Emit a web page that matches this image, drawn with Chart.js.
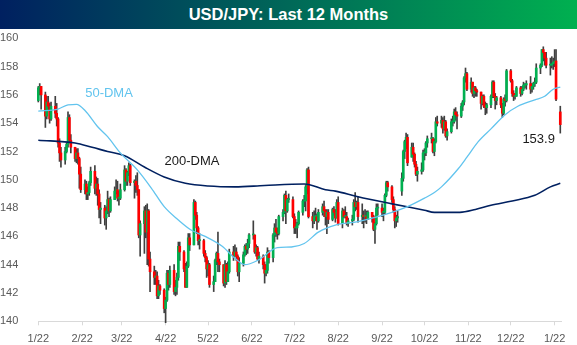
<!DOCTYPE html>
<html>
<head>
<meta charset="utf-8">
<title>USD/JPY: Last 12 Months</title>
<script src="https://cdn.jsdelivr.net/npm/chart.js@4.4.1/dist/chart.umd.min.js"></script>
<style>
  html, body { margin: 0; padding: 0; background: #fff; }
  #wrap { position: relative; width: 577px; height: 345px; }
  #title {
    position: absolute; left: 0; top: 0; width: 577px; height: 29px;
    background: linear-gradient(to right, #002060, #00B050);
    color: #fff; font: bold 16.5px "Liberation Sans", Arial, sans-serif;
    text-align: center; line-height: 29px;
  }
  canvas { position: absolute; left: 0; top: 0; }
</style>
</head>
<body>
<div id="wrap">
  <canvas id="fxChart" width="577" height="345"></canvas>
  <div id="title">USD/JPY: Last 12 Months</div>
</div>
<script>
// === USD/JPY daily candles, 1/22/2025 - 1/26/2026 (weekdays) ===
const firstDay = Date.UTC(2025, 0, 22);

const opens = [
  155.6, 156.5, 156.6,
  156.0, 154.5, 155.5, 155.2, 154.3,  155.2, 154.7, 154.3, 152.6, 151.9,
  151.4, 152.0, 152.5, 154.4, 152.8,  152.3, 151.5, 151.9, 151.5, 150.4,
  149.3, 149.7, 149.0, 149.1, 149.8,  150.6, 149.4, 149.7, 149.0, 147.9,
  148.0, 147.3, 147.8, 148.6, 147.8,  148.6, 149.2, 149.3, 148.7, 148.7,
  149.3, 150.7, 149.9, 150.5, 151.0,  149.8, 149.9, 149.6, 149.3, 146.1,
  146.9, 147.8, 146.3, 147.8, 144.4,  143.5, 143.1, 143.2, 141.8, 142.5,
  142.2, 140.9, 141.5, 143.4, 142.6,  143.6, 142.1, 142.4, 143.1, 145.3,
  144.9, 143.7, 142.4, 143.9, 145.9,  145.4, 148.4, 147.5, 146.6, 145.7,
  145.7, 144.8, 144.5, 143.7, 144.0,  142.6, 142.8, 144.3, 144.8, 144.2,
  144.0, 142.7, 144.0, 142.8, 143.5,  144.9, 144.6, 144.9, 144.6, 143.5,
  144.1, 144.7, 145.3, 145.1, 145.5,  146.1, 146.1, 144.9, 145.2, 144.4,
  144.6, 144.0, 143.4, 143.6, 144.9,  144.5, 146.1, 146.6, 146.3, 146.2,
  147.4, 147.7, 148.9, 147.8, 148.6,  148.6, 147.4, 146.6, 146.6, 146.9,
  147.7, 148.5, 148.5, 149.5, 150.7,  147.4, 147.1, 147.4, 147.4, 147.1,
  147.7, 148.1, 147.8, 147.4, 147.7,  147.2, 147.9, 147.7, 147.3, 148.4,
  146.9, 147.8, 147.4, 147.4, 146.9,  147.1, 147.2, 148.4, 148.1, 148.4,
  147.4, 147.5, 147.4, 147.4, 147.2,  147.7, 147.4, 146.5, 146.9, 148.0,
  148.0, 147.7, 147.7, 148.9, 149.8,  149.5, 148.6, 147.9, 147.1, 147.3,
  149.2, 150.1, 152.0, 152.7, 153.0,  151.6, 152.3, 151.8, 151.1, 150.4,
  150.6, 150.7, 151.9, 151.9, 152.6,  152.9, 152.9, 152.0, 152.7, 154.1,
  154.0, 154.2, 153.6, 154.1, 153.1,  153.4, 154.1, 154.1, 154.8, 154.6,
  154.5, 155.2, 155.5, 157.2, 157.5,  156.4, 156.9, 156.1, 156.5, 156.3,
  156.2, 155.4, 155.9, 155.2, 155.1,  155.3, 155.9, 156.9, 155.9, 155.6,
  155.8, 155.3, 154.7, 155.7, 155.6,  157.7, 157.0, 156.1, 155.9, 155.9,
  156.5, 156.1, 156.4, 156.7, 156.7,  156.8, 156.4, 156.6, 156.8, 156.9,
  157.9, 158.1, 159.2, 159.0, 158.6,  158.1, 158.1, 158.2, 158.3, 158.4,
  154.8
];

const highs = [
  156.6, 156.8, 156.6,
  156.2, 155.9, 155.9, 155.4, 155.5,  155.9, 155.4, 154.4, 152.9, 152.3,
  152.3, 152.6, 154.8, 154.6, 153.2,  152.3, 152.2, 152.2, 151.6, 150.9,
  150.0, 149.9, 149.5, 149.9, 150.9,  151.0, 150.2, 150.1, 149.3, 148.4,
  148.2, 148.1, 149.2, 148.7, 148.8,  149.5, 150.0, 149.9, 149.2, 149.7,
  151.0, 150.8, 150.6, 151.2, 151.1,  150.0, 150.3, 150.5, 149.3, 147.1,
  148.1, 148.2, 148.3, 147.9, 144.9,  143.9, 143.6, 143.5, 142.9, 142.6,
  142.3, 141.7, 143.6, 143.6, 143.9,  144.0, 142.9, 143.4, 145.6, 145.6,
  145.0, 144.1, 144.2, 146.2, 146.2,  148.6, 148.5, 147.7, 146.7, 146.2,
  145.8, 145.0, 144.6, 144.3, 144.1,  143.2, 144.4, 144.9, 146.3, 144.4,
  144.0, 144.3, 144.1, 144.2, 145.1,  145.3, 145.4, 145.2, 144.7, 144.5,
  144.9, 145.4, 145.5, 145.8, 146.2,  147.1, 146.1, 145.4, 145.3, 144.9,
  144.7, 144.2, 144.0, 145.2, 145.0,  146.2, 146.9, 147.2, 146.6, 147.5,
  147.9, 149.0, 149.2, 148.7, 149.0,  148.8, 147.6, 147.2, 147.0, 147.8,
  148.6, 148.9, 149.6, 150.8, 150.9,  147.7, 147.8, 148.0, 147.6, 147.9,
  148.3, 148.5, 147.9, 147.9, 147.9,  148.0, 148.1, 147.9, 148.6, 148.8,
  148.0, 147.9, 148.1, 147.7, 147.3,  147.5, 148.6, 149.1, 148.5, 148.8,
  148.3, 147.8, 147.9, 147.8, 147.8,  147.7, 147.5, 147.0, 148.3, 148.3,
  148.3, 148.0, 149.0, 149.9, 149.9,  149.6, 148.8, 148.1, 147.5, 147.8,
  150.5, 152.1, 152.8, 153.3, 153.2,  152.6, 152.6, 151.9, 151.3, 150.9,
  151.2, 152.1, 152.2, 152.7, 153.1,  153.3, 153.0, 152.9, 154.4, 154.5,
  154.5, 154.4, 154.5, 154.2, 153.6,  154.3, 154.5, 155.0, 155.1, 154.8,
  155.4, 155.6, 157.3, 157.9, 157.6,  157.2, 156.9, 156.6, 156.6, 156.4,
  156.2, 156.0, 156.0, 155.5, 155.4,  156.0, 157.0, 157.0, 156.1, 155.9,
  155.9, 155.4, 155.8, 156.0, 157.8,  157.8, 157.1, 156.3, 156.1, 156.6,
  156.6, 156.6, 156.9, 156.8, 157.0,  157.3, 156.8, 156.9, 157.2, 158.2,
  158.2, 159.2, 159.4, 159.0, 159.0,  158.6, 158.7, 158.6, 159.2, 159.2,
  155.2
];

const lows = [
  155.5, 156.0, 155.0,
  153.7, 154.3, 154.9, 154.0, 154.2,  154.4, 153.8, 152.3, 151.3, 150.9,
  151.1, 151.9, 152.3, 152.6, 151.9,  151.3, 151.2, 151.1, 149.4, 149.1,
  149.0, 148.6, 148.6, 148.9, 149.6,  149.0, 148.9, 148.2, 147.3, 146.9,
  146.8, 146.5, 147.6, 147.4, 147.7,  148.6, 149.0, 148.5, 148.2, 148.6,
  149.2, 149.6, 149.6, 150.3, 149.6,  148.7, 149.1, 148.9, 145.9, 144.6,
  144.8, 145.9, 144.0, 143.9, 142.1,  142.6, 142.6, 141.6, 141.6, 141.9,
  140.6, 139.9, 141.4, 142.2, 142.4,  141.9, 141.8, 141.9, 142.9, 144.3,
  143.5, 142.4, 142.4, 143.8, 145.0,  145.4, 147.2, 146.2, 145.4, 145.1,
  144.6, 144.2, 143.1, 143.2, 142.4,  142.1, 142.8, 144.0, 143.5, 143.5,
  142.5, 142.4, 142.6, 142.8, 143.4,  144.3, 144.6, 144.3, 143.2, 142.8,
  143.9, 144.6, 144.7, 144.8, 145.2,  145.8, 144.8, 144.6, 144.3, 144.1,
  143.7, 142.7, 143.2, 143.4, 144.1,  144.2, 145.6, 146.0, 145.8, 146.1,
  147.1, 147.6, 146.9, 147.7, 148.4,  147.3, 146.2, 146.2, 145.9, 146.8,
  147.5, 148.1, 147.8, 149.0, 147.3,  146.6, 146.9, 147.1, 146.5, 147.0,
  147.5, 147.4, 146.8, 146.2, 146.9,  147.1, 147.5, 147.0, 147.3, 146.8,
  146.6, 147.3, 147.3, 146.8, 146.7,  146.8, 147.1, 147.8, 147.9, 147.0,
  146.9, 146.6, 147.0, 146.9, 147.2,  147.0, 146.4, 145.5, 146.8, 147.5,
  147.4, 147.1, 147.6, 148.8, 149.2,  148.4, 147.7, 146.6, 146.7, 147.0,
  148.9, 149.9, 151.5, 152.2, 151.0,  151.6, 151.3, 150.9, 150.3, 149.9,
  150.4, 150.6, 151.4, 151.7, 152.3,  152.6, 151.9, 151.7, 152.6, 153.8,
  153.7, 153.3, 153.5, 153.0, 152.8,  153.3, 153.8, 154.0, 154.2, 153.6,
  154.4, 154.9, 155.3, 156.9, 156.3,  156.2, 155.9, 155.8, 155.9, 155.9,
  155.0, 155.3, 155.1, 154.6, 154.7,  155.1, 155.8, 155.8, 155.0, 155.3,
  155.1, 154.4, 154.6, 155.2, 155.5,  156.9, 155.9, 155.6, 155.7, 155.9,
  155.9, 156.0, 156.3, 156.5, 156.4,  156.1, 156.2, 156.4, 156.6, 156.8,
  157.5, 158.0, 158.4, 158.1, 157.9,  157.4, 157.9, 157.8, 158.0, 155.6,
  153.3
];

const closes = [
  156.5, 156.6, 156.0,
  154.5, 155.5, 155.2, 154.3, 155.2,  154.7, 154.3, 152.6, 151.9, 151.4,
  152.0, 152.5, 154.4, 152.8, 152.3,  151.5, 151.9, 151.5, 150.4, 149.3,
  149.7, 149.0, 149.1, 149.8, 150.6,  149.4, 149.7, 149.0, 147.9, 148.0,
  147.3, 147.8, 148.6, 147.8, 148.6,  149.2, 149.3, 148.7, 148.7, 149.3,
  150.7, 149.9, 150.5, 151.0, 149.8,  149.9, 149.6, 149.3, 146.1, 146.9,
  147.8, 146.3, 147.8, 144.4, 143.5,  143.1, 143.2, 141.8, 142.5, 142.2,
  140.9, 141.5, 143.4, 142.6, 143.6,  142.1, 142.4, 143.1, 145.3, 144.9,
  143.7, 142.4, 143.9, 145.9, 145.4,  148.4, 147.5, 146.6, 145.7, 145.7,
  144.8, 144.5, 143.7, 144.0, 142.6,  142.8, 144.3, 144.8, 144.2, 144.0,
  142.7, 144.0, 142.8, 143.5, 144.9,  144.6, 144.9, 144.6, 143.5, 144.1,
  144.7, 145.3, 145.1, 145.5, 146.1,  146.1, 144.9, 145.2, 144.4, 144.6,
  144.0, 143.4, 143.6, 144.9, 144.5,  146.1, 146.6, 146.3, 146.2, 147.4,
  147.7, 148.9, 147.8, 148.6, 148.6,  147.4, 146.6, 146.6, 146.9, 147.7,
  148.5, 148.5, 149.5, 150.7, 147.4,  147.1, 147.4, 147.4, 147.1, 147.7,
  148.1, 147.8, 147.4, 147.7, 147.2,  147.9, 147.7, 147.3, 148.4, 146.9,
  147.8, 147.4, 147.4, 146.9, 147.1,  147.2, 148.4, 148.1, 148.4, 147.4,
  147.5, 147.4, 147.4, 147.2, 147.7,  147.4, 146.5, 146.9, 148.0, 148.0,
  147.7, 147.7, 148.9, 149.8, 149.5,  148.6, 147.9, 147.1, 147.3, 147.4,
  150.1, 152.0, 152.7, 153.0, 151.2,  152.3, 151.8, 151.1, 150.4, 150.6,
  150.7, 151.9, 151.9, 152.6, 152.9,  152.9, 152.0, 152.7, 154.1, 154.0,
  154.2, 153.6, 154.1, 153.1, 153.4,  154.1, 154.1, 154.8, 154.6, 154.5,
  155.2, 155.5, 157.2, 157.5, 156.4,  156.9, 156.1, 156.5, 156.3, 156.2,
  155.4, 155.9, 155.2, 155.1, 155.3,  155.9, 156.9, 155.9, 155.6, 155.8,
  155.3, 154.7, 155.7, 155.6, 157.7,  157.0, 156.1, 155.9, 155.9, 156.5,
  156.1, 156.4, 156.7, 156.7, 156.8,  156.4, 156.6, 156.8, 156.9, 157.9,
  158.1, 159.2, 159.0, 158.6, 158.1,  158.1, 158.2, 158.3, 158.4, 155.7,
  153.9
];

// moving averages (day offset from 1/22/2025)
const dma50Days = [0, 14, 21, 27, 33, 42, 49, 58, 70, 80, 89, 99, 108, 118, 130, 139, 146, 155, 169, 179,
  188, 198, 210, 226, 250, 261, 273, 280, 285, 297, 303, 311, 320, 330, 339, 351, 358, 364, 369];
const dma50Vals = [154.86, 155.0, 155.3, 155.33, 154.9, 153.75, 153.05, 151.9, 150.7, 149.4, 148.1, 147.16,
  146.45, 146.0, 145.3, 144.45, 144.0, 144.3, 145.2, 145.25, 145.5, 146.3, 146.8, 147.05, 147.7, 148.1,
  148.7, 149.1, 149.5, 150.8, 151.6, 152.7, 153.6, 154.6, 155.2, 155.65, 155.9, 156.4, 156.55];

const dma200Days = [0, 26, 38, 49, 61, 75, 89, 104, 120, 139, 160, 188, 203, 210, 226, 250, 273, 280,
  298, 309, 320, 335, 351, 362, 369];
const dma200Vals = [152.8, 152.6, 152.3, 152.0, 151.7, 150.9, 150.2, 149.75, 149.56, 149.5, 149.6, 149.7,
  149.3, 149.2, 148.8, 148.3, 147.85, 147.7, 147.7, 147.9, 148.2, 148.5, 148.9, 149.5, 149.75];

const tickDays = [0, 31, 59, 90, 120, 151, 181, 212, 243, 273, 304, 334, 365];
const tickLabels = ['1/22', '2/22', '3/22', '4/22', '5/22', '6/22', '7/22', '8/22', '9/22', '10/22', '11/22', '12/22', '1/22'];

const UP = '#00B050';
const DOWN = '#FF0000';
const WICK = '#404040';
const LIGHT_BLUE = '#62C4EE';
const NAVY = '#002060';
const FONT = '"Liberation Sans", Arial, sans-serif';

// weekday offsets from the first day
const tradingDays = [];
for (let d = 0; tradingDays.length < closes.length; d++) {
  const wd = new Date(firstDay + d * 864e5).getUTCDay();
  if (wd !== 0 && wd !== 6) tradingDays.push(d);
}

const bodies = tradingDays.map((d, i) => ({ x: d, y: [opens[i], closes[i]] }));
const wicks = tradingDays.map((d, i) => ({ x: d, y: [lows[i], highs[i]] }));
const bodyColors = closes.map((c, i) => (c >= opens[i] ? UP : DOWN));
const toPoints = (days, vals) => days.map((d, i) => ({ x: d, y: vals[i] }));

// text labels placed in data coordinates
const chartNotes = {
  id: 'chartNotes',
  afterDatasetsDraw(chart) {
    const { ctx, scales: { x, y } } = chart;
    const notes = [
      { text: '50-DMA', day: 50, val: 156.1, color: LIGHT_BLUE },
      { text: '200-DMA', day: 108.6, val: 151.3, color: '#1a1a1a' },
      { text: closes[closes.length - 1].toFixed(1), day: 353.7, val: 152.85, color: '#1a1a1a' }
    ];
    ctx.save();
    ctx.font = '13px ' + FONT;
    ctx.textAlign = 'center';
    ctx.textBaseline = 'middle';
    notes.forEach(n => {
      ctx.fillStyle = n.color;
      ctx.fillText(n.text, x.getPixelForValue(n.day), y.getPixelForValue(n.val));
    });
    ctx.restore();
  }
};

const ctx = document.getElementById('fxChart').getContext('2d');
new Chart(ctx, {
  type: 'bar',
  data: {
    datasets: [
      {
        type: 'line', label: '50-DMA', data: toPoints(dma50Days, dma50Vals),
        borderColor: LIGHT_BLUE, borderWidth: 1.3, pointRadius: 0,
        cubicInterpolationMode: 'monotone', order: 0, clip: false
      },
      {
        type: 'line', label: '200-DMA', data: toPoints(dma200Days, dma200Vals),
        borderColor: NAVY, borderWidth: 1.6, pointRadius: 0,
        cubicInterpolationMode: 'monotone', order: 0, clip: false
      },
      {
        label: 'body', data: bodies, backgroundColor: bodyColors,
        barThickness: 2, grouped: false, minBarLength: 1, order: 1, clip: false
      },
      {
        label: 'wick', data: wicks, backgroundColor: WICK,
        barThickness: 1, grouped: false, order: 2, clip: false
      }
    ]
  },
  options: {
    responsive: false,
    animation: false,
    devicePixelRatio: 1,
    layout: { padding: { left: 0, right: 15.3, top: 38.3, bottom: 0 } },
    plugins: { legend: { display: false }, tooltip: { enabled: false } },
    scales: {
      x: {
        type: 'linear', min: 0, max: 370, offset: false,
        afterBuildTicks: axis => { axis.ticks = tickDays.map(v => ({ value: v })); },
        afterFit: scale => { scale.height = 23.7; },
        grid: { display: true, drawOnChartArea: false, drawTicks: true, tickLength: 4, color: '#D9D9D9', offset: false },
        border: { display: true, color: '#D9D9D9' },
        ticks: {
          autoSkip: false, maxRotation: 0, padding: 7, color: '#595959',
          font: { family: FONT, size: 11 },
          callback: (v, i) => tickLabels[i]
        }
      },
      y: {
        min: 140, max: 160, beginAtZero: false,
        afterFit: scale => { scale.width = 38.3; },
        grid: { display: false },
        border: { display: false },
        ticks: { stepSize: 2, padding: 12, color: '#595959', font: { family: FONT, size: 11 } }
      }
    }
  },
  plugins: [chartNotes]
});
</script>
</body>
</html>
